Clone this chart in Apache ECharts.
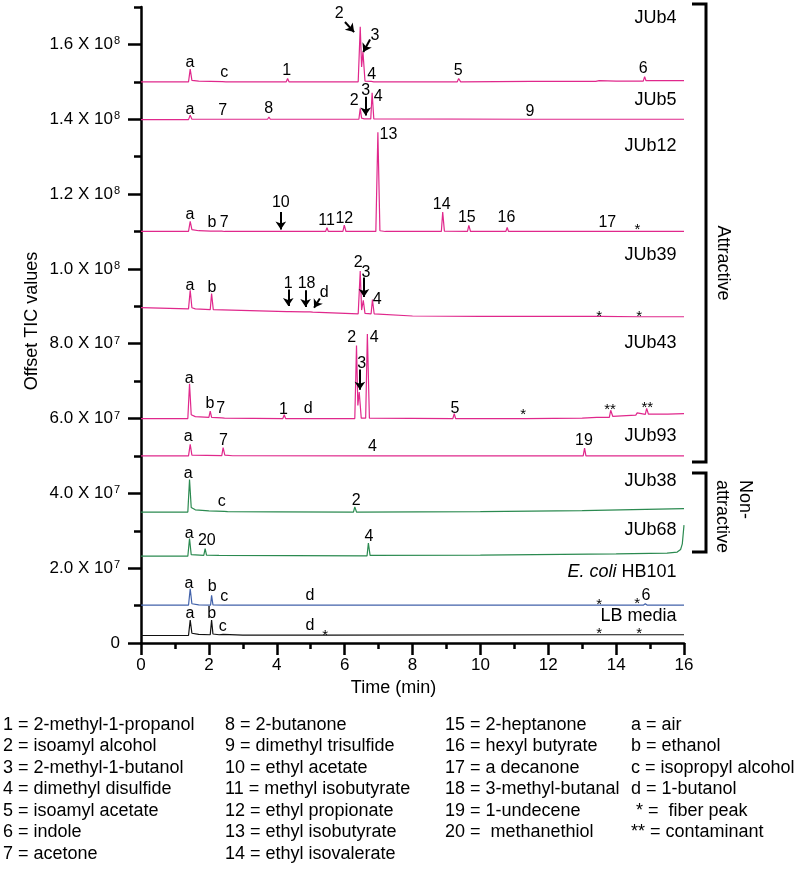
<!DOCTYPE html>
<html><head><meta charset="utf-8">
<script src="https://cdn.jsdelivr.net/npm/echarts@6/dist/echarts.min.js"></script>
<style>html,body{margin:0;padding:0;background:#fff}#c{width:800px;height:870px}</style>
</head><body><div id="c"></div>
<script>
const FONT = '"Liberation Sans", Arial, sans-serif';

// Y values in units of 10^6 TIC counts; time in minutes
const yTickValues = [0, 20, 40, 60, 80, 100, 120, 140, 160];
const yTickLabels = ['0', '2.0 X 10^7', '4.0 X 10^7', '6.0 X 10^7', '8.0 X 10^7', '1.0 X 10^8', '1.2 X 10^8', '1.4 X 10^8', '1.6 X 10^8'];

const sampleNames = ['JUb4', 'JUb5', 'JUb12', 'JUb39', 'JUb43', 'JUb93', 'JUb38', 'JUb68', 'E. coli HB101', 'LB media'];
const sampleColors = ['#e0288c', '#e0288c', '#e0288c', '#e0288c', '#e0288c', '#e0288c', '#2b8a50', '#2b8a50', '#4262aa', '#111111'];

const traceJUb4 = [[0,150.0],[1.40,150.0],[1.45,153.4],[1.50,150.4],[1.7,150.2],[2.4,150.05],[2.45,150.3],[2.5,150.0],[4.28,150.0],[4.32,150.9],[4.36,150.0],[6.40,150.0],[6.46,164.7],[6.50,154.0],[6.54,158.0],[6.60,150.2],[6.78,150.1],[6.82,150.5],[6.86,150.0],[9.32,150.0],[9.36,150.9],[9.42,150.0],[11.5,150.1],[13.4,150.1],[13.5,150.3],[14.0,150.2],[14.80,150.2],[14.84,151.4],[14.88,150.3],[16,150.3]];
const traceJUb5 = [[0,139.9],[1.40,139.9],[1.45,141.1],[1.50,140.0],[2.38,140.0],[2.41,140.3],[2.45,140.0],[3.73,140.0],[3.77,140.6],[3.81,140.0],[6.42,140.0],[6.46,142.9],[6.50,140.3],[6.54,140.6],[6.58,140.1],[6.77,140.1],[6.81,147.1],[6.86,140.1],[11.44,140.0],[11.48,140.3],[11.52,140.0],[16,140.0]];
const traceJUb12 = [[0,110.0],[1.40,110.0],[1.45,112.7],[1.50,110.5],[1.7,110.2],[2.05,110.1],[2.08,110.4],[2.12,110.1],[2.38,110.1],[2.42,110.3],[2.46,110.0],[5.44,110.0],[5.48,111.0],[5.52,110.0],[5.95,110.0],[5.99,111.7],[6.04,110.0],[6.92,110.0],[6.98,136.5],[7.04,110.2],[7.2,110.0],[8.85,110.0],[8.89,115.2],[8.94,110.1],[9.62,110.0],[9.66,111.65],[9.71,110.0],[10.75,110.0],[10.79,111.05],[10.83,110.0],[13.70,110.0],[13.74,110.3],[13.78,110.0],[16,110.0]];
const traceJUb39 = [[0,89.65],[1.40,89.3],[1.45,94.3],[1.50,89.6],[1.6,89.3],[2.04,89.1],[2.08,93.4],[2.13,89.1],[4.30,88.6],[4.34,88.9],[4.38,88.6],[4.82,88.5],[4.86,88.8],[4.90,88.5],[4.98,88.5],[5.02,88.8],[5.06,88.45],[6.40,88.0],[6.46,99.4],[6.50,89.0],[6.55,91.6],[6.60,88.1],[6.78,88.0],[6.82,91.8],[6.87,88.0],[8.0,87.4],[10,87.3],[13.5,87.3],[14.7,87.2],[16,87.2]];
const traceJUb43 = [[0,60.0],[1.38,60.0],[1.43,69.3],[1.48,61.0],[1.6,60.5],[2.0,60.3],[2.04,62.0],[2.08,60.3],[2.38,60.2],[2.42,60.5],[2.46,60.1],[4.18,60.0],[4.22,61.0],[4.26,60.0],[4.90,60.0],[4.94,60.3],[4.98,60.0],[6.30,60.0],[6.35,79.5],[6.39,63.5],[6.43,67.1],[6.49,60.1],[6.62,60.1],[6.67,82.6],[6.73,60.1],[9.19,60.0],[9.23,61.3],[9.27,60.0],[11.24,60.0],[11.28,60.3],[11.32,60.0],[13.0,60.1],[13.43,60.3],[13.47,60.8],[13.51,60.3],[13.80,60.3],[13.84,62.2],[13.90,60.6],[14.3,60.8],[14.58,60.9],[14.62,61.5],[14.66,61.0],[14.86,61.1],[14.90,62.7],[14.95,61.2],[15.44,61.2],[15.48,61.6],[15.52,61.2],[16,61.3]];
const traceJUb93 = [[0,50.0],[1.40,50.0],[1.45,53.1],[1.50,50.2],[2.38,50.1],[2.42,52.2],[2.47,50.2],[2.7,50.05],[6.78,50.0],[6.82,50.3],[6.86,50.0],[13.03,50.0],[13.07,52.1],[13.11,50.0],[16,50.0]];
const traceJUb38 = [[0,35.0],[1.38,35.0],[1.43,43.7],[1.48,36.2],[1.6,35.6],[2.0,35.3],[2.45,35.2],[2.5,35.3],[2.55,35.1],[4,35.05],[6.26,35.0],[6.30,36.4],[6.35,35.0],[10,35.1],[13,35.4],[16,35.9]];
const traceJUb68 = [[0,23.2],[1.38,23.2],[1.43,27.9],[1.48,23.6],[1.85,23.4],[1.89,25.2],[1.93,23.5],[2.3,23.4],[6.66,23.3],[6.70,26.7],[6.75,23.4],[10,23.5],[14,23.8],[15.5,24.0],[15.8,24.3],[15.9,25.0],[15.95,26.5],[16,31.5]];
const traceEcoli = [[0,10.1],[1.40,10.1],[1.45,14.5],[1.50,10.5],[1.7,10.2],[2.05,10.1],[2.08,12.75],[2.12,10.2],[2.42,10.1],[2.45,10.4],[2.48,10.1],[4.96,10.1],[5.0,10.4],[5.04,10.1],[13.48,10.1],[13.52,10.3],[14.8,10.1],[14.86,10.5],[14.92,10.1],[16,10.1]];
const traceLB = [[0,2.0],[1.40,2.0],[1.45,6.1],[1.50,2.6],[1.7,2.3],[2.04,2.2],[2.08,6.1],[2.12,2.4],[2.3,2.2],[2.42,2.3],[3,2.1],[4.96,2.1],[5.0,2.6],[5.04,2.1],[5.42,2.1],[5.45,2.3],[5.48,2.1],[13.5,2.2],[14.7,2.2],[16,2.2]];
const traces = [traceJUb4, traceJUb5, traceJUb12, traceJUb39, traceJUb43, traceJUb93, traceJUb38, traceJUb68, traceEcoli, traceLB];

// Peak labels: [time, value, text]
const peakLabels = [
  [1.44,155.1,'a'],[2.45,152.4,'c'],[4.29,152.9,'1'],[5.84,168.2,'2'],[6.89,162.4,'3'],[6.80,152.0,'4'],[9.35,152.9,'5'],[14.80,153.5,'6'],
  [1.44,142.6,'a'],[2.41,142.4,'7'],[3.76,142.8,'8'],[6.28,144.9,'2'],[6.62,147.7,'3'],[6.99,146.0,'4'],[11.46,142.1,'9'],
  [1.44,114.5,'a'],[2.09,112.5,'b'],[2.45,112.5,'7'],[4.12,117.6,'10'],[5.47,112.8,'11'],[5.99,113.4,'12'],[7.29,136.0,'13'],[8.86,117.3,'14'],[9.60,113.7,'15'],[10.77,113.7,'16'],[13.74,112.3,'17'],[14.63,111.4,'*'],
  [1.44,95.6,'a'],[2.09,95.0,'b'],[4.34,96.2,'1'],[4.88,96.2,'18'],[5.40,93.6,'d'],[6.40,101.6,'2'],[6.63,98.9,'3'],[6.96,91.8,'4'],[13.50,88.2,'*'],[14.68,88.2,'*'],
  [1.42,70.8,'a'],[2.03,64.0,'b'],[2.35,62.7,'7'],[4.20,62.5,'1'],[4.93,62.7,'d'],[6.21,81.6,'2'],[6.87,81.6,'4'],[6.50,74.7,'3'],[9.25,62.7,'5'],[11.26,62.0,'*'],[13.82,63.5,'**'],[14.92,64.0,'**'],
  [1.39,55.3,'a'],[2.43,54.0,'7'],[6.82,52.4,'4'],[13.05,54.0,'19'],
  [1.39,45.4,'a'],[2.38,37.7,'c'],[6.34,38.1,'2'],
  [1.42,29.2,'a'],[1.94,27.3,'20'],[6.72,28.5,'4'],
  [1.41,15.9,'a'],[2.10,15.0,'b'],[2.45,12.5,'c'],[4.98,12.75,'d'],[13.50,11.2,'*'],[14.62,11.5,'*'],[14.88,12.7,'6'],
  [1.44,7.9,'a'],[2.08,7.9,'b'],[2.41,4.3,'c'],[4.98,4.7,'d'],[5.43,2.9,'*'],[13.50,3.4,'*'],[14.68,3.4,'*']
];

// Sample name labels (right-aligned): [time, value]
const sampleLabelPos = [[15.78,167.0],[15.78,145.1],[15.78,132.9],[15.78,103.6],[15.78,80.2],[15.78,55.3],[15.78,43.2],[15.78,30.1],[15.78,19.0],[15.78,7.1]];

// Arrows: [[fromTime, fromValue],[toTime, toValue]]
const arrows = [
  [[6.01,166.0],[6.28,163.3]],
  [[6.75,161.3],[6.55,158.0]],
  [[6.62,146.0],[6.62,141.0]],
  [[4.12,115.2],[4.12,110.5]],
  [[4.34,94.5],[4.34,90.1]],
  [[4.85,94.3],[4.85,89.8]],
  [[5.27,92.1],[5.10,89.6]],
  [[6.57,97.7],[6.57,92.5]],
  [[6.45,73.1],[6.45,67.7]]
];

const legendCols = [
  ['1 = 2-methyl-1-propanol','2 = isoamyl alcohol','3 = 2-methyl-1-butanol','4 = dimethyl disulfide','5 = isoamyl acetate','6 = indole','7 = acetone'],
  ['8 = 2-butanone','9 = dimethyl trisulfide','10 = ethyl acetate','11 = methyl isobutyrate','12 = ethyl propionate','13 = ethyl isobutyrate','14 = ethyl isovalerate'],
  ['15 = 2-heptanone','16 = hexyl butyrate','17 = a decanone','18 = 3-methyl-butanal','19 = 1-undecene','20 =  methanethiol'],
  ['a = air','b = ethanol','c = isopropyl alcohol','d = 1-butanol',' * =  fiber peak','** = contaminant']
];
const legendColX = [3, 225, 445, 631];

const chart = echarts.init(document.getElementById('c'), null, {renderer: 'canvas'});

const series = [];
traces.forEach((tr, i) => {
  series.push({
    type: 'line', name: sampleNames[i], data: tr, showSymbol: false, symbol: 'none',
    xAxisIndex: 0, yAxisIndex: 0, silent: true, animation: false,
    lineStyle: {color: sampleColors[i], width: 1.2}, z: 3
  });
});

// Peak label texts, positioned through the axes
series.push({
  type: 'custom', coordinateSystem: 'cartesian2d', xAxisIndex: 0, yAxisIndex: 0, silent: true, animation: false, z: 5,
  data: peakLabels.map(p => [p[0], p[1]]),
  renderItem: function (params, api) {
    const p = peakLabels[params.dataIndex];
    const pt = api.coord([api.value(0), api.value(1)]);
    const star = p[2].indexOf('*') >= 0;
    return {
      type: 'text', x: pt[0], y: pt[1] + (star ? 4 : 0),
      style: {text: p[2], fill: '#000', font: (star ? 15 : 16) + 'px ' + FONT,
        align: 'center', verticalAlign: 'middle', textAlign: 'center', textVerticalAlign: 'middle'}
    };
  }
});
// Sample names
series.push({
  type: 'custom', coordinateSystem: 'cartesian2d', xAxisIndex: 0, yAxisIndex: 0, silent: true, animation: false, z: 5,
  data: sampleLabelPos,
  renderItem: function (params, api) {
    const pt = api.coord([api.value(0), api.value(1)]);
    const name = sampleNames[params.dataIndex];
    const txt = name === 'E. coli HB101' ? '{i|E. coli}{n| HB101}' : '{n|' + name + '}';
    return {
      type: 'text', x: pt[0], y: pt[1],
      style: {text: txt, fill: '#000', font: '18px ' + FONT,
        align: 'right', verticalAlign: 'middle', textAlign: 'right', textVerticalAlign: 'middle',
        rich: {i: {fontStyle: 'italic', fontSize: 18, fontFamily: FONT, fill: '#000', color: '#000'},
               n: {fontSize: 18, fontFamily: FONT, fill: '#000', color: '#000'}}}
    };
  }
});
series.push({
  type: 'lines', coordinateSystem: 'cartesian2d', xAxisIndex: 0, yAxisIndex: 0, silent: true, animation: false,
  symbol: ['none', 'arrow'], symbolSize: 8, z: 6,
  lineStyle: {color: '#000', width: 2, opacity: 1},
  data: arrows.map(a => ({coords: a}))
});

const graphics = [];
// brackets
graphics.push({type: 'polyline', shape: {points: [[692,4],[706,4],[706,462],[692,462]]}, style: {stroke: '#000', lineWidth: 3, fill: null}});
graphics.push({type: 'polyline', shape: {points: [[692,473],[706,473],[706,552],[692,552]]}, style: {stroke: '#000', lineWidth: 3, fill: null}});
graphics.push({type: 'text', x: 723, y: 263, rotation: -Math.PI / 2,
  style: {text: 'Attractive', font: '18px ' + FONT, fill: '#000', align: 'center', verticalAlign: 'middle', textAlign: 'center', textVerticalAlign: 'middle'}});
graphics.push({type: 'text', x: 733, y: 480, rotation: -Math.PI / 2,
  style: {text: 'Non-\nattractive', font: '18px ' + FONT, lineHeight: 23, fill: '#000', align: 'left', verticalAlign: 'middle', textAlign: 'left', textVerticalAlign: 'middle'}});
// axis titles
graphics.push({type: 'text', x: 32.5, y: 321, rotation: Math.PI / 2,
  style: {text: 'Offset TIC values', font: '18px ' + FONT, fill: '#000', align: 'center', verticalAlign: 'middle', textAlign: 'center', textVerticalAlign: 'middle'}});
graphics.push({type: 'text', x: 393.5, y: 688,
  style: {text: 'Time (min)', font: '18px ' + FONT, fill: '#000', align: 'center', verticalAlign: 'middle', textAlign: 'center', textVerticalAlign: 'middle'}});
// legend of compounds
legendCols.forEach((col, ci) => {
  col.forEach((txt, ri) => {
    graphics.push({type: 'text', x: legendColX[ci], y: 725 + ri * 21.5,
      style: {text: txt, font: '18px ' + FONT, fill: '#000', align: 'left', verticalAlign: 'middle', textAlign: 'left', textVerticalAlign: 'middle'}});
  });
});

const tickLine = {color: '#000', width: 2.5};
chart.setOption({
  animation: false,
  backgroundColor: '#fff',
  grid: {left: 141, right: 116, top: 7, bottom: 227, containLabel: false},
  xAxis: {
    type: 'value', min: 0, max: 16, interval: 2,
    axisLine: {lineStyle: tickLine},
    axisTick: {length: 12, lineStyle: tickLine},
    minorTick: {show: true, splitNumber: 2, length: 6, lineStyle: tickLine},
    axisLabel: {fontSize: 17, fontFamily: FONT, color: '#000', margin: 14},
    splitLine: {show: false}, minorSplitLine: {show: false}
  },
  yAxis: [
    {
      type: 'value', min: 0, max: 170, interval: 10, position: 'left',
      axisLine: {show: true, onZero: false, lineStyle: tickLine},
      axisTick: {length: 7, lineStyle: tickLine},
      axisLabel: {show: false}, splitLine: {show: false}
    },
    {
      type: 'value', min: 0, max: 170, interval: 10, position: 'left', offset: 0,
      axisLine: {show: false, onZero: false},
      axisTick: {show: true, length: 13, customValues: yTickValues, lineStyle: tickLine},
      axisLabel: {
        show: true, customValues: yTickValues, margin: 21, fontSize: 17, fontFamily: FONT, color: '#000',
        formatter: function (v) {
          const idx = yTickValues.indexOf(Math.round(v));
          if (idx < 0) return '';
          const s = yTickLabels[idx];
          const k = s.indexOf('^');
          if (k < 0) return s;
          return s.slice(0, k) + '{s|' + s.slice(k + 1) + '}';
        },
        rich: {s: {fontSize: 11, fontFamily: FONT, color: '#000', verticalAlign: 'top', lineHeight: 11, padding: [0, 0, 0, 1]}}
      },
      splitLine: {show: false}
    }
  ],
  series: series,
  graphic: graphics
});
</script>
</body></html>
